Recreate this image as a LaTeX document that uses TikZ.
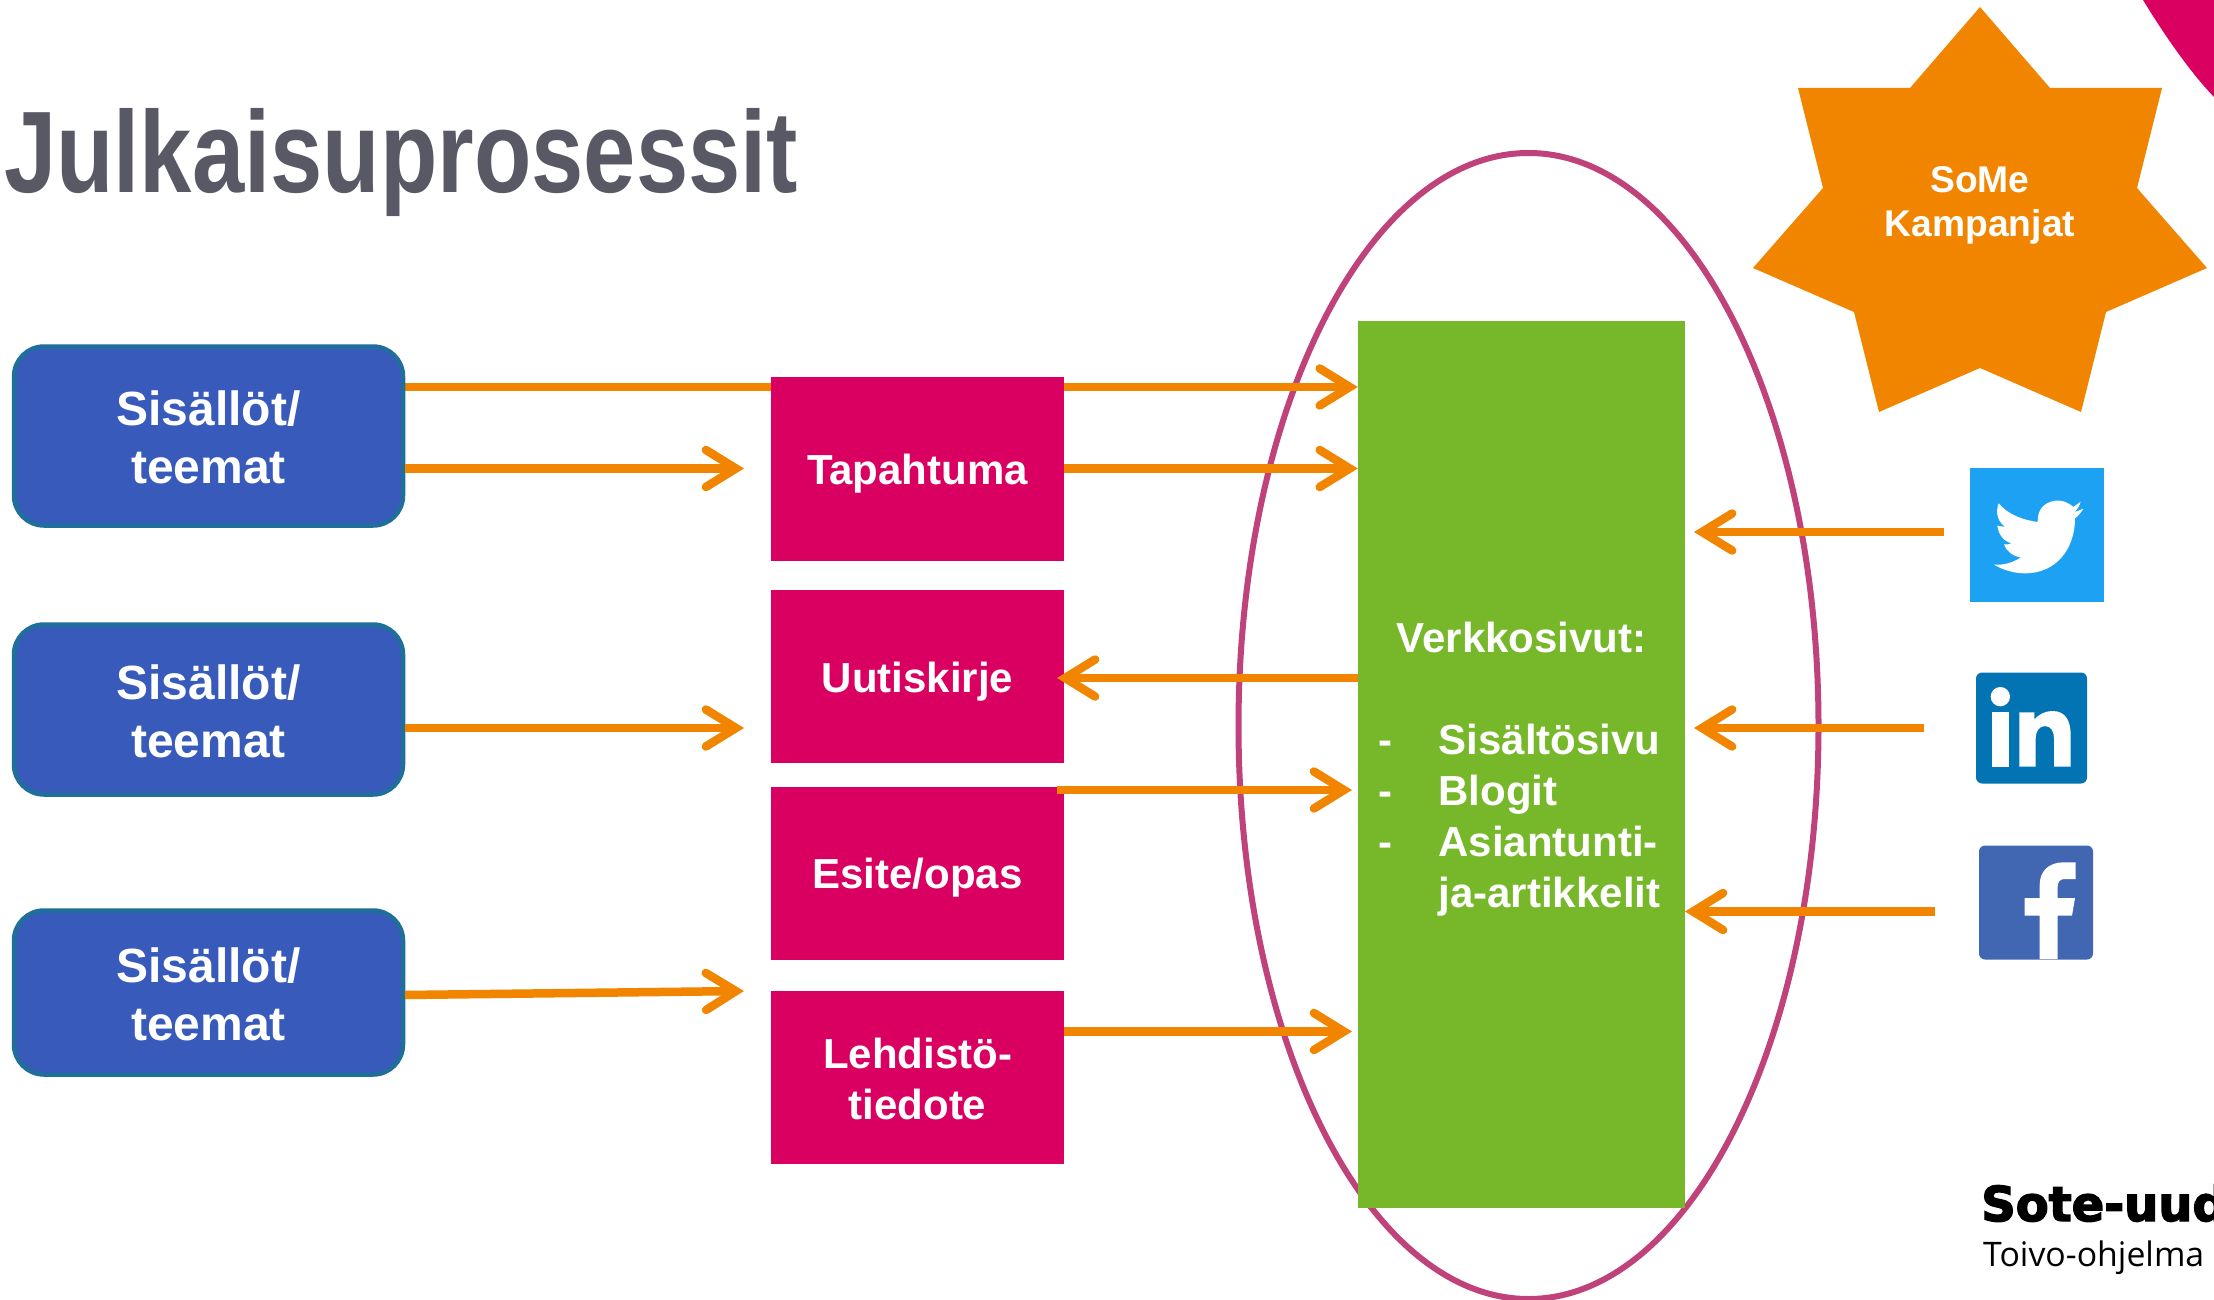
\documentclass[tikz,border=0pt]{standalone}
\usepackage{fontspec}
\setmainfont{Liberation Sans}
\newfontfamily\logoheavy[BoldFeatures={FakeBold=3}]{DejaVu Sans}
\newfontfamily\logolight{Open Sans}
\usetikzlibrary{arrows.meta,shapes.geometric}
\pgfdeclarelayer{under}
\pgfdeclarelayer{mid}
\pgfsetlayers{under,mid,main}
\definecolor{arrowor}{HTML}{F28500}
\definecolor{pinkbox}{HTML}{D90062}
\definecolor{greenbox}{HTML}{76B82A}
\definecolor{bluebox}{HTML}{385BBB}
\definecolor{blueedge}{HTML}{1F6E9B}
\definecolor{ringcol}{HTML}{C0427A}
\definecolor{titlecol}{HTML}{595966}
\definecolor{twcol}{HTML}{1DA1F2}
\definecolor{licol}{HTML}{0274B3}
\definecolor{fbcol}{HTML}{4267B2}
% text block whose last baseline lies #1 below the centre of the node
\newcommand\txtblock[2]{\raisebox{-#1pt}[0pt][0pt]{\begin{tabular}[b]{@{}c@{}}#2\end{tabular}}}
\tikzset{
  sourcebox/.style={draw=blueedge,line width=4.5pt,fill=bluebox,rounded corners=30pt,inner sep=0pt,minimum width=389pt,text=white,font=\fontsize{48}{58}\selectfont\bfseries},
  channelbox/.style={fill=pinkbox,inner sep=0pt,minimum width=293pt,text=white,font=\fontsize{42}{51}\selectfont\bfseries},
  flow/.style={draw=arrowor,line width=8.5pt,-{Straight Barb[length=30pt,width=37pt,line width=8.5pt,line cap=round,line join=miter]}},
  plainicon/.style={inner sep=0pt}
}
\begin{document}
\begin{tikzpicture}[x=1pt,y=-1pt]
\useasboundingbox (0,0) rectangle (2214,1300);
\begin{pgfonlayer}{under}
\fill[white] (0,0) rectangle (2214,1300);
\end{pgfonlayer}
% corner decoration
\fill[pinkbox] (2143,0) .. controls (2165,36) and (2190,72) .. (2214,97) -- (2214,0) -- cycle;
% title
\node[anchor=base west,inner sep=0pt,text=titlecol,font=\fontsize{116}{120}\selectfont\bfseries] (title) at (4,193) {\scalebox{.81}[1]{Julkaisuprosessit}};
% ring
\begin{pgfonlayer}{under}
\node[ellipse,draw=ringcol,line width=6pt,inner sep=0pt,minimum width=580pt,minimum height=1146pt] (ring) at (1528.5,726) {};
\end{pgfonlayer}
% sources
\node[sourcebox,minimum height=179pt] (b1) at (208.5,436) {\txtblock{47.5}{Sisällöt/\\teemat}};
\node[sourcebox,minimum height=170pt] (b2) at (208.5,709.5) {\txtblock{48}{Sisällöt/\\teemat}};
\node[sourcebox,minimum height=164pt] (b3) at (208.5,992.5) {\txtblock{48}{Sisällöt/\\teemat}};
% channels
\node[channelbox,minimum height=184pt] (p1) at (917.5,468.5) {\txtblock{16}{Tapahtuma}};
\node[channelbox,minimum height=173pt] (p2) at (917.5,676) {\txtblock{16.5}{Uutiskirje}};
\node[channelbox,minimum height=173pt] (p3) at (917.5,873) {\txtblock{15.5}{Esite/opas}};
\node[channelbox,minimum height=173pt] (p4) at (917.5,1077) {\txtblock{42.5}{Lehdistö-\\tiedote}};
% web
\node[fill=greenbox,inner sep=0pt,minimum width=327pt,minimum height=887pt,text=white,font=\fontsize{42}{51}\selectfont\bfseries] (web) at (1521.5,764)
 {\raisebox{-143.5pt}[0pt][0pt]{\begin{tabular}[b]{@{}p{60pt}@{}l@{\hspace{4pt}}}
  \multicolumn{2}{@{}c@{}}{Verkkosivut:}\\
  \\
  -&Sisältösivu\\
  -&Blogit\\
  -&Asiantunti-\\
  &ja-artikkelit
 \end{tabular}}};
% star
\fill[arrowor] (1980,7) -- (2050,88) -- (2162,88) -- (2137,188) -- (2207,268) -- (2106,312) -- (2081,412) -- (1980,368) -- (1879,412) -- (1854,312) -- (1753,268) -- (1823,188) -- (1798,88) -- (1910,88) -- cycle;
\node[inner sep=0pt,text=white,font=\fontsize{37.2}{44}\selectfont\bfseries] (star) at (1980,210) {\txtblock{27}{SoMe\\Kampanjat}};
% twitter
\node[fill=twcol,plainicon,minimum width=134pt,minimum height=134pt] (tw) at (2037,535) {};
\begin{scope}[shift={(1960,460)},scale=.33333]
\fill[white] (362,125) -- (340,141) .. controls (322,125) and (304,120) .. (285,122)
 .. controls (250,128) and (232,150) .. (233,186)
 .. controls (190,180) and (145,165) .. (116,130)
 .. controls (106,155) and (112,185) .. (135,200)
 .. controls (128,200) and (120,199) .. (112,197)
 .. controls (115,225) and (133,245) .. (155,250)
 .. controls (147,253) and (140,254) .. (132,253)
 .. controls (140,275) and (160,290) .. (182,292)
 .. controls (160,308) and (130,316) .. (102,314)
 .. controls (130,331) and (165,340) .. (195,340)
 .. controls (290,340) and (345,265) .. (345,175)
 .. controls (355,168) and (363,158) .. (370,146)
 .. controls (360,151) and (351,154) .. (342,156)
 .. controls (352,150) and (358,138) .. (362,125) -- cycle;
\end{scope}
% linkedin
\node[fill=licol,plainicon,rounded corners=6pt,minimum width=111pt,minimum height=111pt] (li) at (2031.5,728) {};
\begin{scope}[shift={(1965,660)},scale=.33333]
\fill[white] (106,110) circle[radius=29];
\fill[white] (81,157) rectangle (131,320);
\fill[white] (163,157) -- (208,157) -- (208,178) .. controls (222,163) and (240,153) .. (262,153)
 .. controls (300,153) and (317,180) .. (317,225) -- (317,320) -- (267,320) -- (267,235)
 .. controls (267,215) and (258,198) .. (240,198) .. controls (222,198) and (212,215) .. (212,235)
 -- (212,320) -- (163,320) -- cycle;
\end{scope}
% facebook
\node[fill=fbcol,plainicon,rounded corners=6pt,minimum width=114pt,minimum height=114pt] (fb) at (2036,902.5) {};
\begin{scope}[shift={(1965,660)},scale=.33333]
\fill[white] (278,897) -- (278,767) -- (321,767) -- (330,714) -- (278,714) -- (278,680)
 .. controls (278,665) and (285,657) .. (300,657) -- (332,657) -- (332,607) -- (295,607)
 .. controls (250,607) and (224,635) .. (224,675) -- (224,714) -- (179,714) -- (179,767)
 -- (224,767) -- (224,897) -- cycle;
\end{scope}
% logo
\begin{scope}
\clip (1960,1170) rectangle (2214,1290);
\node[anchor=base west,inner sep=0pt,font=\logoheavy\fontsize{48}{50}\selectfont\bfseries] (logoa) at (1981,1221) {Sote-uud};
\node[anchor=base west,inner sep=0pt,font=\logolight\fontsize{33.8}{36}\selectfont] (logob) at (1983,1266) {Toivo-ohjelma};
\end{scope}
% connector helpers
\coordinate (r1) at (0,387);
\coordinate (r2) at (0,468.5);
\coordinate (r3) at (0,678);
\coordinate (r4) at (0,728);
\coordinate (r5) at (0,790);
\coordinate (r6) at (0,1031.5);
\coordinate (e2) at (744,468.5);
\coordinate (e3) at (744,728);
\coordinate (s4) at (405,995);
\coordinate (e4) at (744,991);
\coordinate (t3) at (1057,678);
\coordinate (s5) at (1057,790);
\coordinate (e5) at (1352,790);
\coordinate (e6) at (1352,1031.5);
\coordinate (tws) at (1944,532);
\coordinate (twe) at (1694,532);
\coordinate (lis) at (1924,728);
\coordinate (lie) at (1694,728);
\coordinate (fbs) at (1935,911.5);
\coordinate (fbe) at (1685,911.5);
% connectors
\begin{pgfonlayer}{mid}
\draw[flow] (b1.east |- r1) -- (web.west |- r1);
\end{pgfonlayer}
\draw[flow] (b1.east |- r2) -- (e2);
\draw[flow] (p1.east |- r2) -- (web.west |- r2);
\draw[flow] (b2.east |- r4) -- (e3);
\draw[flow] (s4) -- (e4);
\draw[flow] (web.west |- r3) -- (t3);
\draw[flow] (s5) -- (e5);
\draw[flow] (p4.east |- r6) -- (e6);
\draw[flow] (tws) -- (twe);
\draw[flow] (lis) -- (lie);
\draw[flow] (fbs) -- (fbe);
\end{tikzpicture}
\end{document}
